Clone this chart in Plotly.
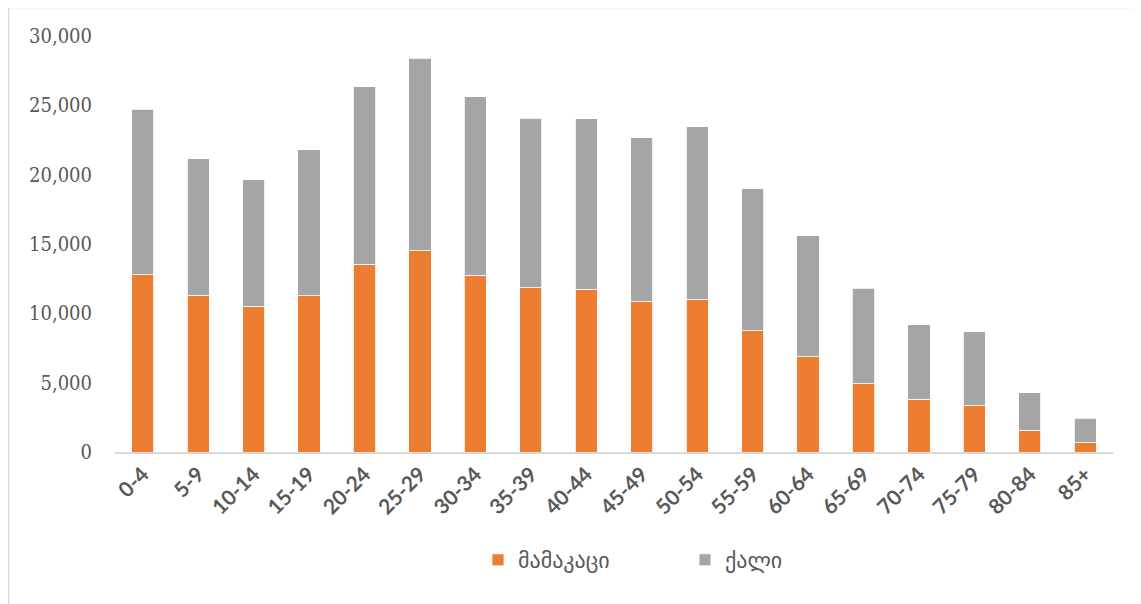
import plotly.graph_objects as go

categories = ["0-4", "5-9", "10-14", "15-19", "20-24", "25-29", "30-34", "35-39",
              "40-44", "45-49", "50-54", "55-59", "60-64", "65-69", "70-74",
              "75-79", "80-84", "85+"]
male = [12800, 11310, 10520, 11260, 13550, 14530, 12730, 11860,
        11720, 10850, 11000, 8760, 6870, 4940, 3820, 3340, 1560, 650]
female = [11920, 9840, 9120, 10540, 12780, 13860, 12900, 12210,
          12320, 11820, 12440, 10230, 8740, 6880, 5350, 5350, 2710, 1800]
y_ticks = [0, 5000, 10000, 15000, 20000, 25000, 30000]
y_tick_labels = ["0", "5,000", "10,000", "15,000", "20,000", "25,000", "30,000"]

fig = go.Figure()
fig.add_trace(go.Bar(x=categories, y=male, name="მამაკაცი",
                     marker=dict(color="#ED7D31", line=dict(color="#ffffff", width=0.8))))
fig.add_trace(go.Bar(x=categories, y=female, name="ქალი",
                     marker=dict(color="#A5A5A5", line=dict(color="#ffffff", width=0.8))))

# page has an 8px body margin; figure coordinates are page coordinates minus 8
OFF = 8
W, H = 1141 - OFF, 604 - OFF
L, R, T, B = 115 - OFF, 28, 36 - OFF, 152
pw, ph = W - L - R, H - T - B

def px_x(p):
    return (p - OFF - L) / pw

def px_y(p):
    return (H - B - (p - OFF)) / ph

fig.update_layout(
    width=W, height=H,
    barmode="stack", bargap=0.6,
    plot_bgcolor="white", paper_bgcolor="white",
    margin=dict(l=L, r=R, t=T, b=B, autoexpand=False),
    showlegend=True,
    legend=dict(orientation="h", x=px_x(478), xanchor="left", y=px_y(560), yanchor="middle",
                font=dict(family="DejaVu Sans", size=22, color="#595959"),
                entrywidth=162, entrywidthmode="pixels", traceorder="normal"),
    xaxis=dict(tickangle=-45, showgrid=False, showline=True, linecolor="#D9D9D9", linewidth=1.5,
               ticks="", tickfont=dict(family="Lato", size=21, color="#595959", weight="bold")),
    yaxis=dict(range=[0, 30000], tickvals=y_ticks, ticktext=y_tick_labels, showgrid=False,
               zeroline=False, showline=False, ticks="", ticklabelstandoff=22,
               tickfont=dict(family="DejaVu Serif Condensed, Liberation Serif", size=20,
                             color="#595959")),
    shapes=[
        dict(type="line", xref="paper", yref="paper", x0=px_x(8), x1=px_x(1150),
             y0=px_y(7.5), y1=px_y(7.5), line=dict(color="#D9D9D9", width=1.5)),
        dict(type="line", xref="paper", yref="paper", x0=px_x(8.5), x1=px_x(8.5),
             y0=px_y(7.5), y1=px_y(610), line=dict(color="#D9D9D9", width=1.5)),
    ],
)

fig.write_html("out.html")
